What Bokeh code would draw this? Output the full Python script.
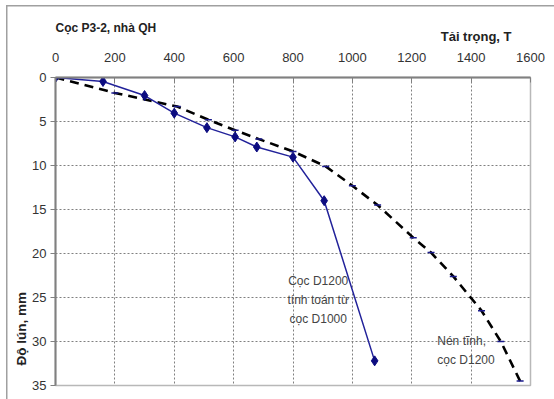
from bokeh.plotting import figure
from bokeh.models import Range1d, Label, FixedTicker, Title
from bokeh.embed import file_html
from bokeh.resources import INLINE

# Calculated curve: pile D1200 computed from pile D1000
load_calc = [0, 160, 300, 400, 510, 605, 678, 800, 905, 1075]
settle_calc = [0, 0.45, 2.05, 4.05, 5.7, 6.75, 7.9, 9.05, 14.0, 32.2]

# Static load test, pile D1200
load_test = [0, 200, 410, 515, 605, 685, 800, 910, 1000, 1085, 1205, 1265, 1340, 1435, 1500, 1565]
settle_test = [0, 1.75, 3.3, 4.8, 6.0, 7.0, 8.4, 10.1, 12.3, 14.5, 18.2, 19.9, 22.6, 26.5, 30.0, 34.5]

x_ticks = [0, 200, 400, 600, 800, 1000, 1200, 1400, 1600]
y_ticks = [0, 5, 10, 15, 20, 25, 30, 35]

FONT = "Liberation Sans"

p = figure(width=554, height=399, output_backend="svg", toolbar_location=None,
           x_range=Range1d(0, 1600), y_range=Range1d(35, 0),
           x_axis_location="above", y_axis_location="left",
           min_border_left=55, min_border_right=24, min_border_top=77, min_border_bottom=14)
p.background_fill_color = "white"
p.border_fill_color = None
p.outline_line_color = "#b8b8b8"
p.outline_line_width = 1.5
# outer picture frame (thin grey lines at left and top)
p.styles = {
    "background-color": "white",
    "background-image": "linear-gradient(#a0a0a0, #a0a0a0), linear-gradient(#a0a0a0, #a0a0a0)",
    "background-size": "1.5px 100%, 100% 1.5px",
    "background-position": "6px 5px, 6px 5px",
    "background-repeat": "no-repeat",
}

for ax in (p.xaxis[0], p.yaxis[0]):
    ax.axis_line_color = "#808080"
    ax.axis_line_width = 2
    ax.major_tick_line_color = "#808080"
    ax.minor_tick_line_color = None
    ax.major_label_text_font = FONT
    ax.major_label_text_font_size = "13px"
    ax.major_label_text_color = "#333333"

p.xaxis[0].ticker = FixedTicker(ticks=x_ticks)
p.xaxis[0].major_tick_in = 5
p.xaxis[0].major_tick_out = 0
p.xaxis[0].major_label_standoff = 16

p.yaxis[0].ticker = FixedTicker(ticks=y_ticks)
p.yaxis[0].major_tick_in = 0
p.yaxis[0].major_tick_out = 5
p.yaxis[0].major_label_standoff = 4

for g in (p.xgrid[0], p.ygrid[0]):
    g.grid_line_color = "#808080"
    g.grid_line_dash = "2 2"
    g.grid_line_width = 1

# dashed static test curve
p.line(load_test, settle_test, line_color="black", line_width=2.6, line_dash="9 6")
p.scatter(load_test[1:], settle_test[1:], marker="dash", size=7, line_color="#1a1a8c", line_width=1.5)

# calculated curve
p.line(load_calc, settle_calc, line_color="#22229a", line_width=1.5)
p.scatter(load_calc, settle_calc, marker="diamond", size=10, fill_color="#0c0c80", line_color="#0c0c80")

# titles outside the frame
p.add_layout(Title(text="Tải trọng, T", align="right", offset=19, standoff=12,
                   text_font=FONT, text_font_size="13px", text_font_style="bold",
                   text_color="#222222"), "above")
p.add_layout(Title(text="Cọc P3-2, nhà QH", align="left", offset=0, standoff=-28,
                   text_font=FONT, text_font_size="12px", text_font_style="bold",
                   text_color="#222222"), "above")
p.add_layout(Title(text="Độ lún, mm", align="left", offset=20, standoff=2,
                   text_font=FONT, text_font_size="13.5px", text_font_style="bold",
                   text_color="#222222"), "left")

# annotations inside the plot
p.add_layout(Label(x=885, y=25.3, text="Cọc D1200\ntính toán từ\ncọc D1000", text_font=FONT,
                   text_font_size="12px", text_color="#444444", text_align="center", text_baseline="middle",
                   text_line_height=1.35))
p.add_layout(Label(x=1286, y=31.0, text="Nén tĩnh,\ncọc D1200", text_font=FONT,
                   text_font_size="12px", text_color="#444444", text_align="left", text_baseline="middle",
                   text_line_height=1.35))

open("out.html", "w").write(file_html(p, INLINE))
